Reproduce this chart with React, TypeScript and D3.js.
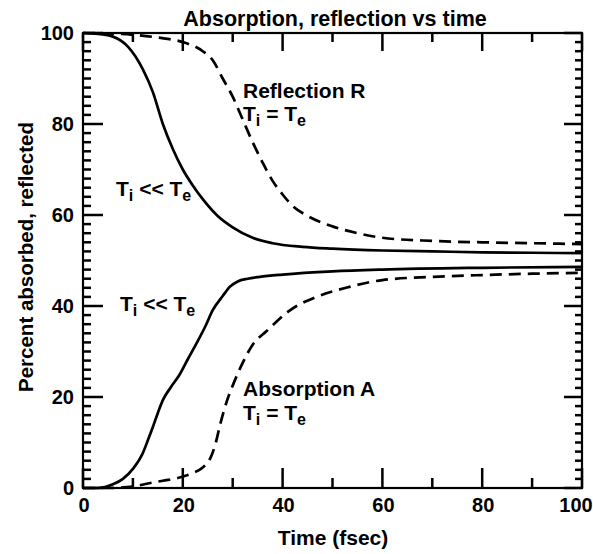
import React from "react";
import * as d3 from "d3";

const reflSolidT = [0, 3, 6, 9, 12, 14, 16, 18, 20, 22, 24, 27, 30, 34, 38, 44, 50, 60, 70, 80, 90, 100];
const reflSolidV = [100, 99.8, 99.2, 97, 92, 87, 80, 74.5, 70, 66.5, 63.5, 59.8, 57.3, 55, 53.8, 53, 52.6, 52.2, 52, 51.8, 51.7, 51.6];

const reflDashT = [0, 5, 10, 15, 20, 24, 26, 28, 30, 32, 34, 36, 38, 40, 42, 45, 50, 55, 60, 70, 80, 90, 100];
const reflDashV = [100, 99.9, 99.6, 99, 98, 96, 94, 90, 86, 81, 76, 71.5, 67.5, 64.5, 62, 59.8, 57.5, 56, 55, 54.3, 54, 53.8, 53.6];

const absSolidT = [0, 3, 6, 8, 10, 12, 13, 14, 15, 16, 17.5, 19.4, 21, 22.8, 24.5, 26, 28, 29.4, 31, 33, 35.4, 40, 50, 60, 80, 100];
const absSolidV = [0, 0, 0.8, 2, 4.2, 7.7, 10.5, 13.4, 16.5, 19.3, 22, 25, 28.3, 31.9, 35.5, 39.1, 42.2, 44.2, 45.4, 46, 46.4, 46.9, 47.6, 48, 48.4, 48.6];

const absDashT = [0, 5, 10, 13, 16, 19, 22, 24, 25.5, 26.5, 27.5, 28.8, 30, 32, 34, 36.8, 41.4, 46.8, 53.4, 60, 70, 80, 90, 100];
const absDashV = [0, 0, 0.3, 1, 1.6, 2.2, 3.3, 4.5, 6.5, 9.5, 14, 19, 22.5, 27.5, 31.5, 34.5, 39, 42, 44.2, 45.7, 46.4, 46.8, 47.1, 47.3];

const xTickLabels = [0, 20, 40, 60, 80, 100];
const yTickLabels = [0, 20, 40, 60, 80, 100];
const yTickValues = d3.range(0, 101, 2);
const xTickValues = d3.range(0, 101, 10);

const FONT = "'Liberation Sans', Arial, Helvetica, sans-serif";

export default function App() {
  const W = 593, H = 554;
  const x = d3.scaleLinear().domain([0, 100]).range([83, 582]);
  const y = d3.scaleLinear().domain([0, 100]).range([488, 33]);

  const line = d3
    .line<[number, number]>()
    .x((d) => x(d[0]))
    .y((d) => y(d[1]))
    .curve(d3.curveMonotoneX);

  const mk = (t: number[], v: number[]) => line(t.map((tt, i) => [tt, v[i]] as [number, number])) || "";

  const sub = (main: string, s: string) => (
    <>
      <tspan>{main}</tspan>
      <tspan dy={5} fontSize={16}>{s}</tspan>
      <tspan dy={-5}> </tspan>
    </>
  );

  return (
    <svg width={W} height={H} style={{ position: "absolute", left: 0, top: 0, background: "#fff" }}>
      <rect x={x(0)} y={y(100)} width={x(100) - x(0)} height={y(0) - y(100)} fill="none" stroke="#000" strokeWidth={2.2} />
      {yTickValues.map((v) => (
        <line key={"yl" + v} x1={x(0)} x2={x(0) + (v % 20 === 0 ? 20 : 8)} y1={y(v)} y2={y(v)} stroke="#000" strokeWidth={2.5} />
      ))}
      {yTickValues.map((v) => (
        <line key={"yr" + v} x1={x(100)} x2={x(100) - (v % 20 === 0 ? 18 : 7)} y1={y(v)} y2={y(v)} stroke="#000" strokeWidth={2.5} />
      ))}
      {xTickValues.map((v) => (
        <line key={"xb" + v} x1={x(v)} x2={x(v)} y1={y(0)} y2={y(0) - (v % 20 === 0 ? 20 : 10)} stroke="#000" strokeWidth={2.5} />
      ))}
      {xTickValues.map((v) => (
        <line key={"xt" + v} x1={x(v)} x2={x(v)} y1={y(100)} y2={y(100) + (v % 20 === 0 ? 18 : 9)} stroke="#000" strokeWidth={2.5} />
      ))}
      <g fontFamily={FONT} fontWeight="bold" fontSize={20} fill="#000">
        {yTickLabels.map((v) => (
          <text key={"yl" + v} x={74} y={y(v) + 7} textAnchor="end">{v}</text>
        ))}
        {xTickLabels.map((v) => (
          <text key={"xl" + v} x={v === 100 ? x(v) - 6 : x(v) + 1} y={512} textAnchor="middle">{v}</text>
        ))}
      </g>
      <g fill="none" stroke="#000" strokeWidth={2.7}>
        <path d={mk(reflSolidT, reflSolidV)} />
        <path d={mk(absSolidT, absSolidV)} />
        <path d={mk(reflDashT, reflDashV)} strokeDasharray="12 7" />
        <path d={mk(absDashT, absDashV)} strokeDasharray="12 7" />
      </g>
      <g fontFamily={FONT} fontWeight="bold" fill="#000">
        <text x={335} y={26} textAnchor="middle" fontSize={21.5}>Absorption, reflection vs time</text>
        <text x={333} y={545} textAnchor="middle" fontSize={21}>Time (fsec)</text>
        <text transform="translate(33,257) rotate(-90)" textAnchor="middle" fontSize={20.5}>Percent absorbed, reflected</text>
        <text x={243} y={98} fontSize={21}>Reflection R</text>
        <text x={243} y={121} fontSize={21}>{sub("T", "i")}= {sub("T", "e")}</text>
        <text x={116} y={196} fontSize={21}>{sub("T", "i")}&lt;&lt; {sub("T", "e")}</text>
        <text x={120} y={311} fontSize={21}>{sub("T", "i")}&lt;&lt; {sub("T", "e")}</text>
        <text x={243} y={396} fontSize={21}>Absorption A</text>
        <text x={243} y={420} fontSize={21}>{sub("T", "i")}= {sub("T", "e")}</text>
      </g>
    </svg>
  );
}
